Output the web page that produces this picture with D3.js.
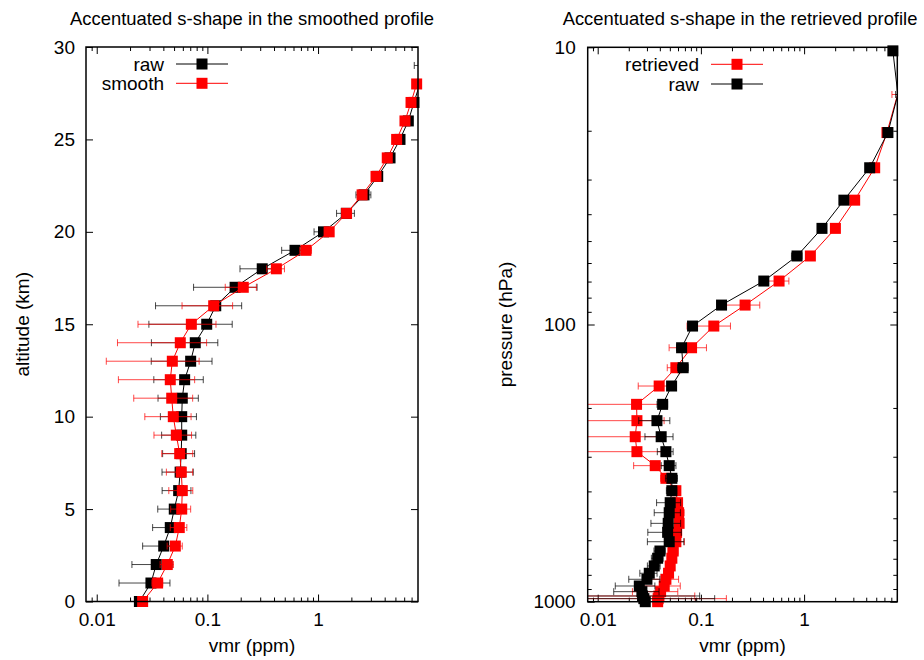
<!DOCTYPE html>
<html><head><meta charset="utf-8">
<script src="https://cdn.jsdelivr.net/npm/d3@7/dist/d3.min.js"></script>
<style>
body{margin:0;background:#fff;}
svg{display:block;}
</style></head><body>
<svg id="chart" width="924" height="660"></svg>
<script>
// ---------------- data ----------------
const altitudes = [0,1,2,3,4,5,6,7,8,9,10,11,12,13,14,15,16,17,18,19,20,21,22,23,24,25,26,27,28,29];
const rawVmr = [0.0243,0.0309,0.0345,0.0403,0.0462,0.0502,0.055,0.0567,0.058,0.0586,0.0586,0.0593,0.0623,0.0706,0.0777,0.0986,0.119,0.178,0.313,0.619,1.12,1.80,2.60,3.46,4.47,5.50,6.54,7.36,8.3,8.6];
const rawErr = [0.002,0.015,0.0137,0.0143,0.0142,0.0146,0.016,0.0178,0.0186,0.02,0.021,0.0235,0.0295,0.0395,0.0465,0.069,0.085,0.103,0.116,0.15,0.2,0.33,0.4,0.35,0.4,0.45,0.5,0.5,0.6,1.2];
const smoothVmr = [0.026,0.0355,0.0434,0.0513,0.0557,0.0586,0.0593,0.0581,0.0562,0.0524,0.0492,0.0476,0.0462,0.0482,0.0569,0.0716,0.114,0.211,0.42,0.778,1.26,1.81,2.50,3.34,4.22,5.13,6.10,6.92,7.78,8.7];
const smoothErr = [0.002,0.004,0.006,0.008,0.0095,0.012,0.0145,0.0155,0.0175,0.0195,0.022,0.026,0.0305,0.036,0.0415,0.048,0.055,0.066,0.077,0.095,0.12,0.15,0.2,0.25,0.3,0.35,0.4,0.45,0.5,0.5];

const pressures = [10.3,14.8,20.3,27.2,35.6,45,56.6,69.7,85.1,101.3,121.3,143.2,166.7,194.1,222.3,254,287.6,323,358.8,397.7,439.4,477.5,521.6,562,607.6,656.4,697,743,789.6,830,877.7,920,953.6,975,1000];
const rawPVmr = [7.25,8.1,6.49,4.32,2.43,1.49,0.854,0.407,0.1585,0.083,0.065,0.0673,0.052,0.0426,0.0375,0.0412,0.0458,0.0493,0.0523,0.0523,0.0504,0.0493,0.0482,0.0476,0.0493,0.0401,0.0381,0.0353,0.0316,0.030,0.0253,0.0268,0.0272,0.028,0.0289];
const rawPErr = [0.3,0.4,0.2,0.15,0.1,0.06,0.1,0.02,0.01,0.006,0.007,0.008,0.004,0.005,0.0125,0.0125,0.008,0.008,0.007,0.006,0.0132,0.014,0.0154,0.017,0.019,0.005,0.005,0.005,0.006,0.01,0.0105,0.0125,0.07,0.108,0.06];
const retrievedVmr = [9.0,8.05,6.35,4.83,3.09,2.01,1.15,0.572,0.268,0.1334,0.0812,0.0572,0.0394,0.0238,0.024,0.0231,0.024,0.0361,0.0458,0.0572,0.0594,0.0608,0.0615,0.0581,0.0572,0.0539,0.0523,0.0504,0.0486,0.0458,0.0441,0.0407,0.0392,0.0385,0.0381];
const retrievedErr = [0.3,0.95,0.2,0.15,0.1,0.08,0.05,0.14,0.104,0.06,0.032,0.01,0.0147,0.02,0.02,0.02,0.02,0.0138,0.005,0.004,0.007,0.008,0.006,0.007,0.012,0.006,0.005,0.005,0.005,0.015,0.019,0.019,0.048,0.138,0.05];

const vmrDomain = [0.008, 8];
const vmrTicks = [0.01, 0.1, 1];
const altDomain = [0, 30];
const altTicks = [0, 5, 10, 15, 20, 25, 30];
const pDomain = [10, 1000];
const pTicks = [10, 100, 1000];

// ---------------- drawing ----------------
const FONT = '"Liberation Sans", Arial, Helvetica, sans-serif';
const FS = 19;
const TFS = 18.4;
const MS = 11;
const svg = d3.select('#chart').style('font-family', FONT);

function logMinor(dom) {
  const out = [];
  const e0 = Math.floor(Math.log10(dom[0])), e1 = Math.ceil(Math.log10(dom[1]));
  for (let e = e0; e <= e1; e++) for (let m = 2; m <= 9; m++) {
    const v = +(m * Math.pow(10, e)).toPrecision(3);
    if (v > dom[0] * 1.001 && v < dom[1] * 0.999) out.push(v);
  }
  return out;
}

function styleAxis(sel) {
  sel.select('.domain').remove();
  sel.selectAll('line').attr('stroke', '#000').attr('stroke-width', 1);
  sel.selectAll('text').attr('font-family', FONT).attr('font-size', FS).attr('fill', '#000');
}

let clipN = 0;
function panel(cfg) {
  const { L, R, T, B, x, y, yTicks, yMinor, yFormat, series, legend, title, titleX, ylabel, ylabelX, yPad } = cfg;
  const g = svg.append('g');
  const cid = 'clip' + (clipN++);
  svg.append('defs').append('clipPath').attr('id', cid)
    .append('rect').attr('x', L).attr('y', T).attr('width', R - L).attr('height', B - T);

  const minorX = logMinor(x.domain());
  g.append('g').attr('transform', `translate(0,${B})`)
    .call(d3.axisBottom(x).tickValues(vmrTicks).tickSize(-7).tickPadding(11).tickFormat(d => String(d)))
    .call(styleAxis);
  g.append('g').attr('transform', `translate(0,${B})`)
    .call(d3.axisBottom(x).tickValues(minorX).tickSize(-4).tickFormat(''))
    .call(styleAxis);
  g.append('g').attr('transform', `translate(0,${T})`)
    .call(d3.axisTop(x).tickValues(vmrTicks).tickSize(-7).tickFormat(''))
    .call(styleAxis);
  g.append('g').attr('transform', `translate(0,${T})`)
    .call(d3.axisTop(x).tickValues(minorX).tickSize(-4).tickFormat(''))
    .call(styleAxis);
  g.append('g').attr('transform', `translate(${L},0)`)
    .call(d3.axisLeft(y).tickValues(yTicks).tickSize(-7).tickPadding(yPad).tickFormat(yFormat))
    .call(styleAxis);
  g.append('g').attr('transform', `translate(${R},0)`)
    .call(d3.axisRight(y).tickValues(yTicks).tickSize(-7).tickFormat(''))
    .call(styleAxis);
  if (yMinor) {
    g.append('g').attr('transform', `translate(${L},0)`)
      .call(d3.axisLeft(y).tickValues(yMinor).tickSize(-4).tickFormat(''))
      .call(styleAxis);
    g.append('g').attr('transform', `translate(${R},0)`)
      .call(d3.axisRight(y).tickValues(yMinor).tickSize(-4).tickFormat(''))
      .call(styleAxis);
  }

  const [d0, d1] = x.domain();
  series.forEach(s => {
    const pts = s.levels.map((lv, i) => ({ lv, v: s.v[i], e: s.e[i] }));
    const sg = g.append('g');
    const eb = sg.append('g').attr('clip-path', `url(#${cid})`)
      .attr('stroke', s.color).attr('stroke-opacity', 0.72).attr('stroke-width', 1);
    pts.forEach(d => {
      const lo = x(Math.max(d.v - d.e, 1e-6)), hi = x(d.v + d.e), yy = y(d.lv);
      eb.append('line').attr('x1', lo).attr('x2', hi).attr('y1', yy).attr('y2', yy);
      eb.append('line').attr('x1', lo).attr('x2', lo).attr('y1', yy - 3.5).attr('y2', yy + 3.5);
      eb.append('line').attr('x1', hi).attr('x2', hi).attr('y1', yy - 3.5).attr('y2', yy + 3.5);
    });
    sg.append('path').attr('clip-path', `url(#${cid})`)
      .attr('fill', 'none').attr('stroke', s.color).attr('stroke-width', 1)
      .attr('d', d3.line().x(d => x(d.v)).y(d => y(d.lv))(pts));
    sg.selectAll('rect.m').data(pts.filter(d => d.v >= d0 && d.v <= d1)).join('rect')
      .attr('class', 'm')
      .attr('x', d => x(d.v) - MS / 2).attr('y', d => y(d.lv) - MS / 2)
      .attr('width', MS).attr('height', MS).attr('fill', s.color);
  });

  g.append('rect').attr('x', L).attr('y', T).attr('width', R - L).attr('height', B - T)
    .attr('fill', 'none').attr('stroke', '#000').attr('stroke-width', 1.5);

  legend.items.forEach((it, i) => {
    const yy = legend.y + i * legend.dy;
    g.append('text').attr('x', legend.textX).attr('y', yy).attr('dy', '0.35em')
      .attr('text-anchor', 'end').attr('font-size', FS).text(it.label);
    g.append('line').attr('x1', legend.x1).attr('x2', legend.x2).attr('y1', yy).attr('y2', yy)
      .attr('stroke', it.color).attr('stroke-width', 1);
    g.append('rect').attr('x', (legend.x1 + legend.x2) / 2 - MS / 2).attr('y', yy - MS / 2)
      .attr('width', MS).attr('height', MS).attr('fill', it.color);
  });

  const cx = (L + R) / 2;
  g.append('text').attr('x', titleX).attr('y', 24.5).attr('text-anchor', 'middle').attr('font-size', TFS).text(title);
  g.append('text').attr('x', cx).attr('y', 652).attr('text-anchor', 'middle').attr('font-size', FS).text('vmr (ppm)');
  g.append('text').attr('transform', `translate(${ylabelX},${(T + B) / 2}) rotate(-90)`)
    .attr('text-anchor', 'middle').attr('dy', '0.35em').attr('font-size', FS).text(ylabel);
}

const xL = d3.scaleLog().domain(vmrDomain).range([86, 418]);
const yL = d3.scaleLinear().domain(altDomain).range([601.5, 47]);
panel({
  L: 86, R: 418, T: 47, B: 601.5, x: xL, y: yL,
  yTicks: altTicks, yMinor: null, yFormat: d => String(d), yPad: 11,
  series: [
    { levels: altitudes, v: rawVmr, e: rawErr, color: '#000000' },
    { levels: altitudes, v: smoothVmr, e: smoothErr, color: '#ff0000' }
  ],
  legend: { textX: 164, x1: 176, x2: 228, y: 64, dy: 19.3,
    items: [{ label: 'raw', color: '#000000' }, { label: 'smooth', color: '#ff0000' }] },
  title: 'Accentuated s-shape in the smoothed profile', titleX: 252,
  ylabel: 'altitude (km)', ylabelX: 22
});

const xR = d3.scaleLog().domain(vmrDomain).range([587.7, 897.3]);
const yR = d3.scaleLog().domain(pDomain).range([47.3, 601.7]);
panel({
  L: 587.7, R: 897.3, T: 47.3, B: 601.7, x: xR, y: yR,
  yTicks: pTicks, yMinor: logMinor(pDomain), yFormat: d => String(d), yPad: 12,
  series: [
    { levels: pressures, v: retrievedVmr, e: retrievedErr, color: '#ff0000' },
    { levels: pressures, v: rawPVmr, e: rawPErr, color: '#000000' }
  ],
  legend: { textX: 699, x1: 711, x2: 763, y: 64.3, dy: 19.7,
    items: [{ label: 'retrieved', color: '#ff0000' }, { label: 'raw', color: '#000000' }] },
  title: 'Accentuated s-shape in the retrieved profile', titleX: 740,
  ylabel: 'pressure (hPa)', ylabelX: 505
});
</script>
</body></html>
